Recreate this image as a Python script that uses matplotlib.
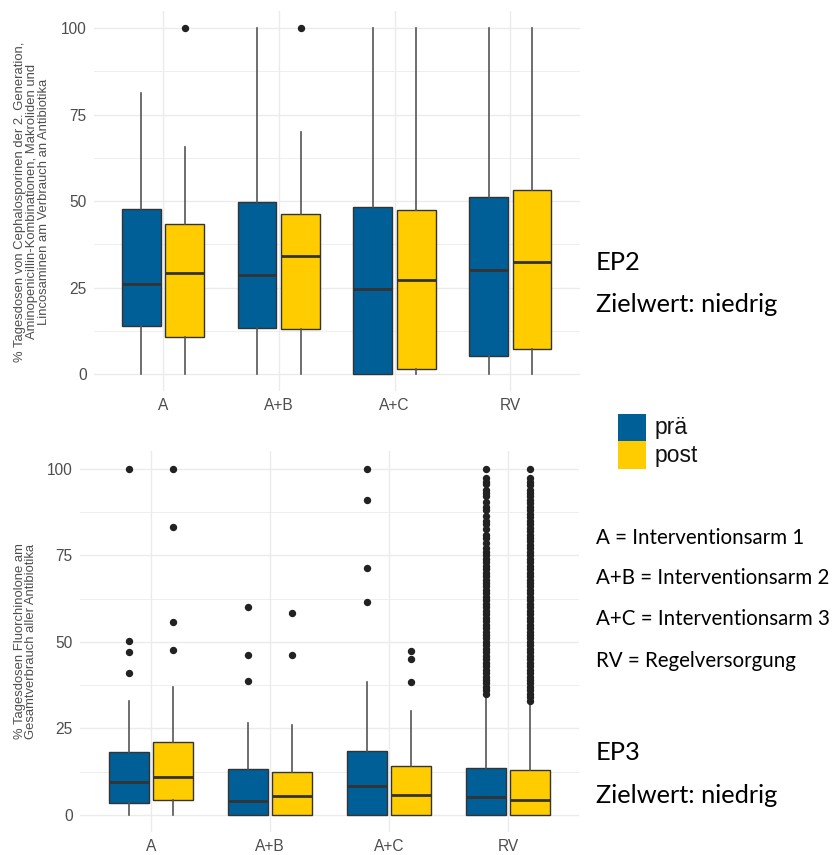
import matplotlib

matplotlib.use("Agg")
import matplotlib.pyplot as plt
import numpy as np
from matplotlib.patches import Rectangle

arms = ["A", "A+B", "A+C", "RV"]
phases = ["prä", "post"]
phase_colors = {"prä": "#005F96", "post": "#FFCC00"}

# EP2: Cephalosporine / Aminopenicillin-Kombis / Makrolide / Lincosamine
ep2_q1 = {"prä": [13.9, 13.3, 0.0, 5.3], "post": [10.7, 13.0, 1.5, 7.3]}
ep2_med = {"prä": [26.0, 28.6, 24.6, 30.1], "post": [29.2, 34.1, 27.2, 32.4]}
ep2_q3 = {"prä": [47.7, 49.7, 48.3, 51.2], "post": [43.4, 46.2, 47.5, 53.2]}
ep2_lo = {"prä": [0.0, 0.0, 0.0, 0.0], "post": [0.0, 0.0, 0.0, 0.0]}
ep2_hi = {"prä": [81.2, 100.0, 100.0, 100.0], "post": [65.6, 69.9, 100.0, 100.0]}
ep2_out = {
    "prä": [[], [], [], []],
    "post": [[100.0], [100.0], [], []],
}

# EP3: Fluorchinolone
ep3_q1 = {"prä": [3.6, 0.0, 0.0, 0.0], "post": [4.2, 0.0, 0.0, 0.0]}
ep3_med = {"prä": [9.4, 4.0, 8.5, 5.1], "post": [10.9, 5.6, 5.8, 4.4]}
ep3_q3 = {"prä": [18.1, 13.4, 18.6, 13.7], "post": [21.1, 12.3, 14.1, 12.9]}
ep3_lo = {"prä": [0.0, 0.0, 0.0, 0.0], "post": [0.0, 0.0, 0.0, 0.0]}
ep3_hi = {"prä": [32.8, 26.5, 38.3, 33.9], "post": [36.9, 26.1, 30.0, 31.8]}
rv_pre_out = [
    35, 36, 37, 38, 39, 40, 41, 42, 43, 44, 45, 46, 47, 48, 49, 50, 51, 52,
    53, 54, 55, 56, 57, 58, 59, 60, 61, 62, 63, 64, 65, 66, 67, 68, 69, 70,
    71, 72, 73, 74, 75, 76, 77, 78.5, 80, 81, 82.5, 84, 85, 86.5, 88, 89,
    90.5, 92, 93, 94, 95.5, 96.2, 97.3, 100,
]
rv_post_out = [
    33, 34, 35, 36, 37, 38, 39, 40, 41, 42, 43, 44, 45, 46, 47, 48, 49, 50,
    51, 52, 53, 54, 55, 56, 57, 58, 59, 60, 61, 62, 63, 64, 65, 66, 67, 68,
    69, 70, 71, 72, 73, 74, 75, 76, 77, 78, 79, 80, 81, 82, 83, 84, 85, 86,
    87, 88, 89, 90, 91, 92, 93, 94, 95.2, 96.3, 97.3, 100,
]
ep3_out = {
    "prä": [[100.0, 50.2, 47.1, 40.9], [60.0, 46.1, 38.7],
            [100.0, 90.9, 71.4, 61.4], rv_pre_out],
    "post": [[100.0, 83.3, 55.7, 47.6], [58.3, 46.1],
             [47.4, 45.2, 38.5], rv_post_out],
}

ep2_ylabel = ("% Tagesdosen von Cephalosporinen der 2. Generation,\n"
              "Aminopenicillin-Kombinationen, Makroliden und\n"
              "Lincosaminen am Verbrauch an Antibiotika")
ep3_ylabel = "% Tagesdosen Fluorchinolone am\nGesamtverbrauch aller Antibiotika"

arm_legend = [
    "A = Interventionsarm 1",
    "A+B = Interventionsarm 2",
    "A+C = Interventionsarm 3",
    "RV = Regelversorgung",
]

GRID = "#ebebeb"
TXT = "#4d4d4d"
DODGE = 0.1875
BOX_W = 0.335


def draw_panel(ax, q1, med, q3, lo, hi, out):
    x = np.arange(len(arms))
    for k, ph in enumerate(phases):
        stats = []
        for i in range(len(arms)):
            stats.append(dict(med=med[ph][i], q1=q1[ph][i], q3=q3[ph][i],
                              whislo=lo[ph][i], whishi=hi[ph][i],
                              fliers=out[ph][i]))
        pos = x + (-DODGE if k == 0 else DODGE)
        ax.bxp(stats, positions=pos, widths=BOX_W, patch_artist=True,
               showcaps=False, manage_ticks=False,
               boxprops=dict(facecolor=phase_colors[ph], edgecolor="#333333",
                             linewidth=1.0),
               medianprops=dict(color="#333333", linewidth=2.0),
               whiskerprops=dict(color="#555555", linewidth=1.2),
               flierprops=dict(marker="o", markersize=4.3,
                               markerfacecolor="#222222",
                               markeredgecolor="#222222"),
               zorder=3)

    ax.set_xlim(-0.6, len(arms) - 0.4)
    ax.set_ylim(-5, 105)
    ax.set_xticks(x)
    ax.set_xticklabels(arms)
    ax.set_yticks([0, 25, 50, 75, 100])
    ax.set_yticks([12.5, 37.5, 62.5, 87.5], minor=True)
    ax.grid(True, which="major", color=GRID, linewidth=1.0, zorder=0)
    ax.grid(True, which="minor", axis="y", color=GRID, linewidth=0.6, zorder=0)
    ax.set_axisbelow(True)
    for s in ax.spines.values():
        s.set_visible(False)
    ax.tick_params(which="both", length=0, labelsize=11.2, colors=TXT)
    ax.tick_params(axis="x", pad=5)
    ax.tick_params(axis="y", pad=5)


plt.rcParams["font.family"] = ["Liberation Sans", "DejaVu Sans"]

fig = plt.figure(figsize=(8.34, 8.55), dpi=100)

ax_top = fig.add_axes([0.1122, 0.5423, 0.583, 0.4451])
draw_panel(ax_top, ep2_q1, ep2_med, ep2_q3, ep2_lo, ep2_hi, ep2_out)

ax_bot = fig.add_axes([0.0954, 0.0265, 0.5993, 0.4455])
draw_panel(ax_bot, ep3_q1, ep3_med, ep3_q3, ep3_lo, ep3_hi, ep3_out)

fig.text(32 / 834, 0.7643, ep2_ylabel, rotation=90, ha="center", va="center",
         multialignment="center", fontsize=9.4, color=TXT, linespacing=0.95)
fig.text(25.5 / 834, 0.2503, ep3_ylabel, rotation=90, ha="center", va="center",
         multialignment="center", fontsize=9.4, color=TXT, linespacing=0.95)

# legend for prä / post
sq_x, sq_w, sq_h = 618 / 834, 28 / 834, 27.5 / 855
for ph, y0 in zip(phases, [1 - 441.5 / 855, 1 - 469 / 855]):
    fig.add_artist(Rectangle((sq_x, y0), sq_w, sq_h, transform=fig.transFigure,
                             facecolor=phase_colors[ph], edgecolor="none"))
    fig.text(655 / 834, y0 + sq_h / 2, ph, ha="left", va="center",
             fontsize=16.5, color="#111111")

side = ["Lato", "DejaVu Sans"]
tx = 596 / 834
fig.text(tx, 1 - 263 / 855, "EP2", family=side, fontsize=18.3, va="center")
fig.text(tx, 1 - 305 / 855, "Zielwert: niedrig", family=side, fontsize=18.3,
         va="center")
for lbl, yp in zip(arm_legend, [538, 578, 619, 661]):
    fig.text(tx, 1 - yp / 855, lbl, family=side, fontsize=14.8, va="center")
fig.text(tx, 1 - 752 / 855, "EP3", family=side, fontsize=18.3, va="center")
fig.text(tx, 1 - 795 / 855, "Zielwert: niedrig", family=side, fontsize=18.3,
         va="center")

fig.savefig("out.png", dpi=100)
